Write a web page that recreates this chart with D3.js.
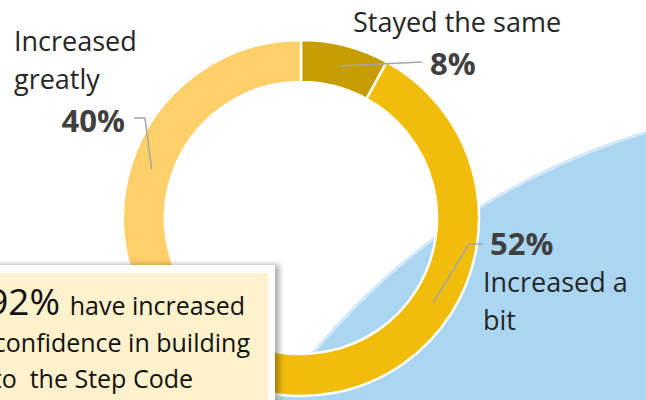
<!DOCTYPE html>
<html lang="en">
<head>
<meta charset="UTF-8">
<title>Step Code confidence</title>
<script src="https://d3js.org/d3.v7.min.js"></script>
<style>
  body { margin: 0; background: #fff; }
  svg { display: block; font-family: "Open Sans", sans-serif; }
</style>
</head>
<body>
<svg width="646" height="400"></svg>
<script>
// data
const categories = ["Stayed the same", "Increased a bit", "Increased greatly"];
const values = [8, 52, 40];
const colors = ["#C69D02", "#F0BD0B", "#FED06A"];
const labelLines = [["Stayed the same"], ["Increased a", "bit"], ["Increased", "greatly"]];
const summaryPct = "92%";
const summaryLines = ["have increased", "confidence in building", "to  the Step Code"];

const svg = d3.select("svg");
const cx = 301, cy = 218, R = 178, r = 136;

// background blue shape
svg.append("circle")
  .attr("cx", 845).attr("cy", 794).attr("r", 691)
  .attr("fill", "#ABD6F2")
  .attr("stroke", "#D3E9F8")
  .attr("stroke-width", 3);

// donut
const pie = d3.pie().sort(null).value(d => d.value);
const arc = d3.arc().innerRadius(r).outerRadius(R);
const mid = d3.arc().innerRadius((r + R) / 2).outerRadius((r + R) / 2);

const data = categories.map((c, i) => ({ name: c, value: values[i], color: colors[i], lines: labelLines[i] }));
const arcs = pie(data);

const g = svg.append("g").attr("transform", `translate(${cx},${cy})`);
g.selectAll("path.slice")
  .data(arcs).enter().append("path")
  .attr("class", "slice")
  .attr("d", arc)
  .attr("fill", d => d.data.color)
  .attr("stroke", "#fff")
  .attr("stroke-width", 2.5);

// label layout: elbow points of leader, pct text position, name text position
const layout = {
  "Stayed the same": { pts: [[422, 62]], pct: [430, 75, "start"], name: [353, 32] },
  "Increased a bit": { pts: [[469, 244], [483, 244]], pct: [490, 255, "start"], name: [483, 292] },
  "Increased greatly": { pts: [[145, 118], [134, 118]], pct: [125, 132, "end"], name: [14, 51] }
};

const line = d3.line();
arcs.forEach(a => {
  const L = layout[a.data.name];
  const c = mid.centroid(a);
  const pts = [[c[0] + cx, c[1] + cy]].concat(L.pts);
  svg.append("path")
    .attr("d", line(pts))
    .attr("fill", "none")
    .attr("stroke", "#A5A5A5")
    .attr("stroke-width", 1.5);

  svg.append("text")
    .attr("x", L.pct[0]).attr("y", L.pct[1])
    .attr("text-anchor", L.pct[2])
    .attr("font-size", 31).attr("font-weight", "bold")
    .attr("fill", "#404040")
    .text(d3.format(".0%")(a.data.value / 100));

  const t = svg.append("text")
    .attr("x", L.name[0]).attr("y", L.name[1])
    .attr("font-size", 27)
    .attr("fill", "#262626");
  a.data.lines.forEach((s, i) => {
    t.append("tspan").attr("x", L.name[0]).attr("dy", i ? 38 : 0).text(s);
  });
});

// summary box
const defs = svg.append("defs");
const f = defs.append("filter").attr("id", "sh").attr("x", "-10%").attr("y", "-10%").attr("width", "130%").attr("height", "130%");
f.append("feDropShadow").attr("dx", 4).attr("dy", 0).attr("stdDeviation", 3).attr("flood-color", "#000").attr("flood-opacity", 0.35);

svg.append("rect")
  .attr("x", -20).attr("y", 265).attr("width", 295).attr("height", 160)
  .attr("fill", "#fff")
  .attr("filter", "url(#sh)");
svg.append("rect")
  .attr("x", -20).attr("y", 273).attr("width", 288).attr("height", 150)
  .attr("fill", "#FFF2CC");

const st = svg.append("text").attr("fill", "#111").attr("text-anchor", "end").attr("x", 245).attr("y", 315);
st.append("tspan").attr("font-size", 37).text(summaryPct + " ");
st.append("tspan").attr("font-size", 25).text(summaryLines[0]);
summaryLines.slice(1).forEach((s, i) => {
  svg.append("text")
    .attr("x", i ? 193 : 250).attr("y", 352 + i * 36)
    .attr("text-anchor", "end")
    .attr("font-size", 25)
    .attr("fill", "#111")
    .style("white-space", "pre")
    .text(s);
});
</script>
</body>
</html>
